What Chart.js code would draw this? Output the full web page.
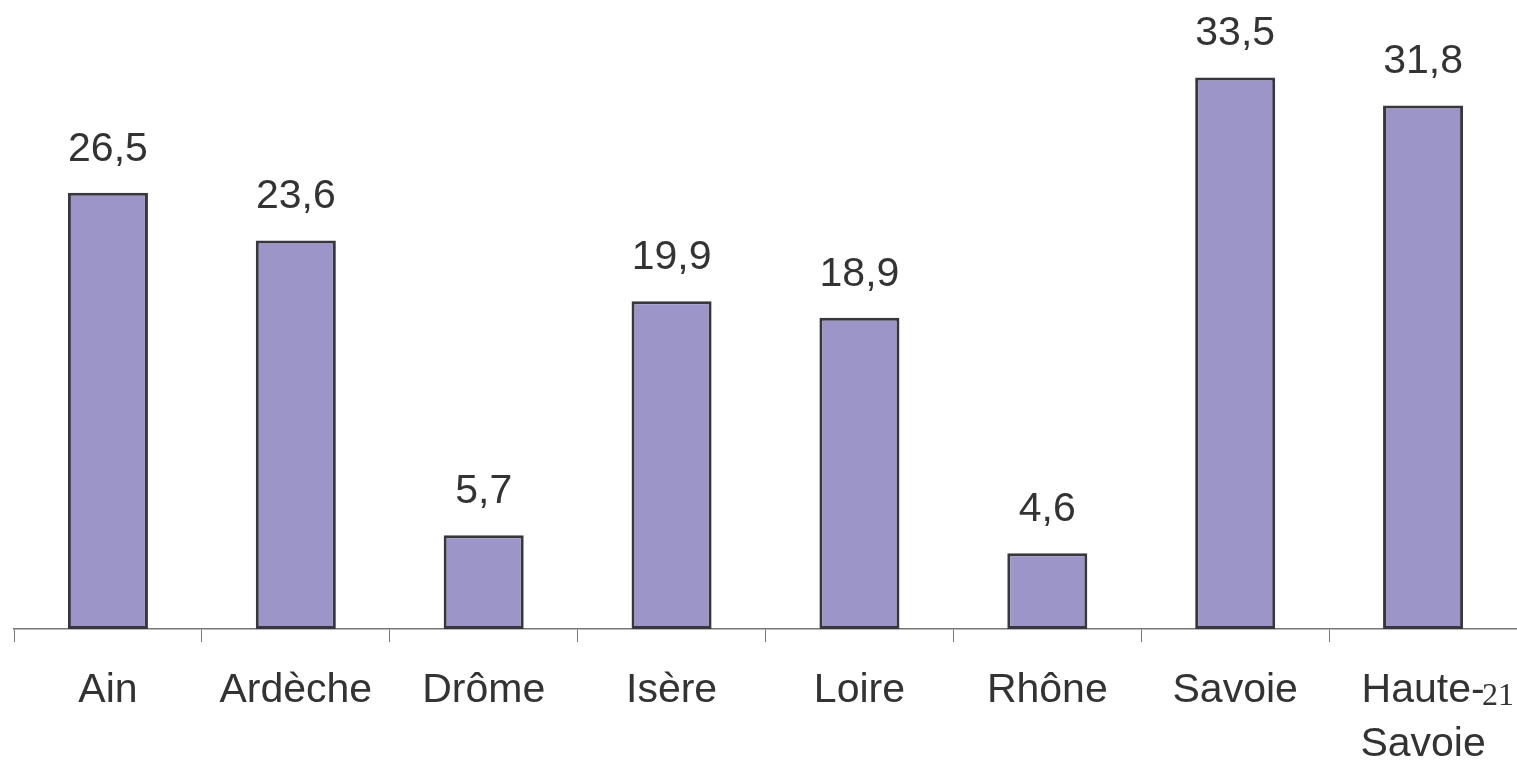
<!DOCTYPE html>
<html lang="fr">
<head>
    <meta charset="UTF-8">
    <title>Départements</title>
    <style>
        *{box-sizing:border-box}
        html,body{margin:0;padding:0;background:#fff}
        #wrap{position:relative;width:1517px;height:764px}
        #page-num{position:absolute;left:1482px;top:678px;font-family:'Liberation Serif','Times New Roman',serif;font-size:32px;line-height:32px;color:#333}
    </style>
    <script src="https://cdn.jsdelivr.net/npm/chart.js@4/dist/chart.umd.min.js"></script>
</head>
<body>
    <div id="wrap">
        <canvas id="chart"></canvas>
        <div id="page-num">21</div>
    </div>

    <script>
        // Data
        const departements = ['Ain', 'Ardèche', 'Drôme', 'Isère', 'Loire', 'Rhône', 'Savoie', ['Haute-', 'Savoie']];
        const valeurs = [26.5, 23.6, 5.7, 19.9, 18.9, 4.6, 33.5, 31.8];

        const textColor = '#333333';
        const fontFamily = "'Liberation Sans', Arial, sans-serif";

        // Draw the value above every bar
        const valueLabels = {
            id: 'valueLabels',
            afterDatasetsDraw(chart) {
                const ctx = chart.ctx;
                const meta = chart.getDatasetMeta(0);
                ctx.save();
                ctx.font = '41px ' + fontFamily;
                ctx.fillStyle = textColor;
                ctx.textAlign = 'center';
                ctx.textBaseline = 'alphabetic';
                meta.data.forEach((bar, i) => {
                    const text = valeurs[i].toFixed(1).replace('.', ',');
                    ctx.fillText(text, bar.x, bar.y - 32);
                });
                ctx.restore();
            }
        };

        const ctx = document.getElementById('chart').getContext('2d');
        new Chart(ctx, {
            type: 'bar',
            data: {
                labels: departements,
                datasets: [{
                    data: valeurs,
                    backgroundColor: '#9c96c8',
                    borderColor: '#38373d',
                    borderWidth: 3,
                    borderSkipped: false,
                    barPercentage: 0.426,
                    categoryPercentage: 1
                }]
            },
            options: {
                responsive: true,
                maintainAspectRatio: false,
                animation: false,
                layout: { padding: { left: 14, right: 0, top: 0, bottom: 0 } },
                plugins: {
                    legend: { display: false },
                    tooltip: { enabled: false }
                },
                scales: {
                    x: {
                        grid: {
                            display: true,
                            offset: true,
                            drawOnChartArea: false,
                            drawTicks: true,
                            tickLength: 13,
                            color: '#777',
                            lineWidth: 1
                        },
                        border: { display: true, color: '#777', width: 1.5 },
                        ticks: {
                            color: textColor,
                            padding: 21,
                            maxRotation: 0,
                            autoSkip: false,
                            font: { family: fontFamily, size: 41, lineHeight: 1.33 }
                        },
                        afterFit(scale) { scale.height = 135; }
                    },
                    y: {
                        display: false,
                        min: 0,
                        max: 38.2
                    }
                }
            },
            plugins: [valueLabels]
        });
    </script>
</body>
</html>
